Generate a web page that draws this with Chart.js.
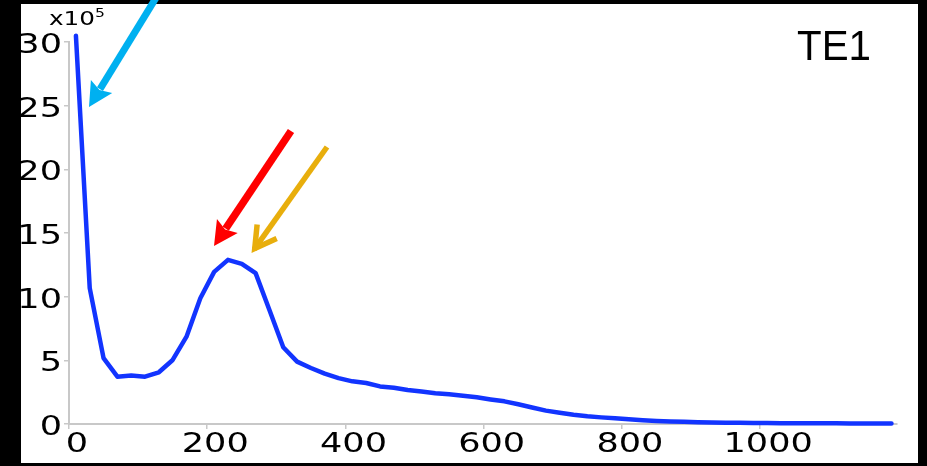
<!DOCTYPE html>
<html>
<head>
<meta charset="utf-8">
<script src="https://cdn.jsdelivr.net/npm/chart.js@4.4.1/dist/chart.umd.min.js"></script>
<style>
  html, body { margin: 0; padding: 0; background: #000; }
  #wrap { width: 927px; height: 466px; position: relative; }
</style>
</head>
<body>
<div id="wrap"><canvas id="grafica_te1" width="927" height="466"></canvas></div>
<script>
const xValues = [10, 30, 50, 70, 90, 110, 130, 150, 170, 190,
  210, 230, 250, 270, 290, 310, 330, 350, 370, 390,
  410, 430, 450, 470, 490, 510, 530, 550, 570, 590,
  610, 630, 650, 670, 690, 710, 730, 750, 770, 790,
  810, 830, 850, 870, 890, 910, 930, 950, 970, 990,
  1010, 1030, 1050, 1070, 1090, 1110, 1130, 1150, 1170, 1190];
const yValues = [30.5, 10.67, 5.17, 3.72, 3.8, 3.72, 4.06, 5.03, 6.86, 9.88,
  11.95, 12.89, 12.58, 11.85, 8.95, 6.03, 4.9, 4.4, 3.95, 3.6,
  3.35, 3.22, 2.95, 2.85, 2.67, 2.55, 2.42, 2.33, 2.22, 2.1,
  1.93, 1.78, 1.55, 1.3, 1.05, 0.88, 0.72, 0.6, 0.52, 0.45,
  0.38, 0.3, 0.24, 0.2, 0.17, 0.14, 0.12, 0.1, 0.09, 0.08,
  0.07, 0.06, 0.06, 0.05, 0.05, 0.05, 0.04, 0.04, 0.04, 0.04];
const xTicks = [0, 200, 400, 600, 800, 1000];
const yTicks = [0, 5, 10, 15, 20, 25, 30];
const panelTitle = "TE1";

const axisGray = '#c8c8c8';
const tickFont = '27px "DejaVu Sans"';
const stretch = 1.3;

// texto ensanchado como en la imagen original
function wideText(ctx, txt, x, y, align, sx) {
  ctx.save();
  ctx.translate(x, y);
  ctx.scale(sx, 1);
  ctx.textAlign = align;
  ctx.textBaseline = 'alphabetic';
  ctx.fillText(txt, 0, 0);
  ctx.restore();
}

function drawArrow(ctx, tail, tip, color, width, headLen, headHalf, open) {
  const dx = tip[0] - tail[0], dy = tip[1] - tail[1];
  const len = Math.sqrt(dx * dx + dy * dy);
  const ux = dx / len, uy = dy / len;
  const px = -uy, py = ux;
  const bx = tip[0] - ux * headLen, by = tip[1] - uy * headLen;
  ctx.save();
  ctx.strokeStyle = color;
  ctx.fillStyle = color;
  ctx.lineWidth = width;
  ctx.lineCap = 'butt';
  ctx.beginPath();
  ctx.moveTo(tail[0], tail[1]);
  if (open) {
    ctx.lineTo(tip[0] - ux * 2, tip[1] - uy * 2);
  } else {
    ctx.lineTo(bx + ux * 3, by + uy * 3);
  }
  ctx.stroke();
  if (open) {
    ctx.lineJoin = 'miter';
    ctx.beginPath();
    ctx.moveTo(bx + px * headHalf, by + py * headHalf);
    ctx.lineTo(tip[0] - ux * 3, tip[1] - uy * 3);
    ctx.lineTo(bx - px * headHalf, by - py * headHalf);
    ctx.stroke();
  } else {
    ctx.beginPath();
    ctx.moveTo(tip[0], tip[1]);
    ctx.lineTo(bx + px * headHalf, by + py * headHalf);
    ctx.lineTo(bx + ux * 4, by + uy * 4);
    ctx.lineTo(bx - px * headHalf, by - py * headHalf);
    ctx.closePath();
    ctx.fill();
  }
  ctx.restore();
}

const framePlugin = {
  id: 'frame',
  beforeDraw(chart) {
    const ctx = chart.ctx;
    ctx.save();
    ctx.fillStyle = '#000';
    ctx.fillRect(0, 0, chart.width, chart.height);
    ctx.fillStyle = '#fff';
    ctx.fillRect(21, 4, 897, 459);
    ctx.restore();
  },
  afterDraw(chart) {
    const ctx = chart.ctx;
    const xs = chart.scales.x, ys = chart.scales.y;
    ctx.save();
    ctx.fillStyle = '#000';
    ctx.font = tickFont;
    xs.ticks.forEach(t => {
      wideText(ctx, String(t.value), xs.getPixelForValue(t.value) + 8, 452, 'center', stretch);
    });
    ys.ticks.forEach(t => {
      wideText(ctx, String(t.value), 62, ys.getPixelForValue(t.value) + 11, 'right', stretch);
    });
    ctx.font = '19px "DejaVu Sans"';
    wideText(ctx, 'x10', 49, 25, 'left', stretch);
    ctx.font = '12px "DejaVu Sans"';
    wideText(ctx, '5', 95, 17, 'left', stretch);
    ctx.font = '42px "Liberation Sans"';
    wideText(ctx, panelTitle, 797, 60, 'left', 0.96);
    ctx.restore();

    drawArrow(ctx, [162, -12], [89, 107], '#00b0f0', 7, 24, 12.5, false);
    drawArrow(ctx, [291, 131], [214, 246], '#ff0000', 7.5, 24, 12.5, false);
    drawArrow(ctx, [327, 147], [253, 251], '#e8ae0c', 5.5, 24, 12, true);
  }
};

const ctx = document.getElementById("grafica_te1").getContext("2d");
const chartTE1 = new Chart(ctx, {
  type: 'line',
  data: {
    datasets: [{
      data: xValues.map((x, i) => ({ x: x, y: yValues[i] })),
      borderColor: '#1234ff',
      borderWidth: 4.5,
      borderCapStyle: 'round',
      borderJoinStyle: 'round',
      pointRadius: 0,
      tension: 0,
      fill: false,
      clip: false
    }]
  },
  options: {
    responsive: false,
    animation: false,
    layout: { padding: { top: 42, right: 30, left: 0, bottom: 0 } },
    plugins: { legend: { display: false }, tooltip: { enabled: false } },
    scales: {
      x: {
        type: 'linear',
        min: 0,
        max: 1198,
        afterBuildTicks: (scale) => { scale.ticks = xTicks.map(v => ({ value: v })); },
        afterFit: (scale) => { scale.height = 42; },
        ticks: { display: false },
        grid: { drawOnChartArea: false, drawTicks: true, tickLength: 5, color: axisGray, lineWidth: 1.5 },
        border: { color: axisGray, width: 2 }
      },
      y: {
        min: 0,
        max: 30,
        afterBuildTicks: (scale) => { scale.ticks = yTicks.map(v => ({ value: v })); },
        afterFit: (scale) => { scale.width = 69; },
        ticks: { display: false },
        grid: { drawOnChartArea: false, drawTicks: true, tickLength: 5, color: axisGray, lineWidth: 1.5 },
        border: { color: axisGray, width: 2 }
      }
    }
  },
  plugins: [framePlugin]
});
</script>
</body>
</html>
